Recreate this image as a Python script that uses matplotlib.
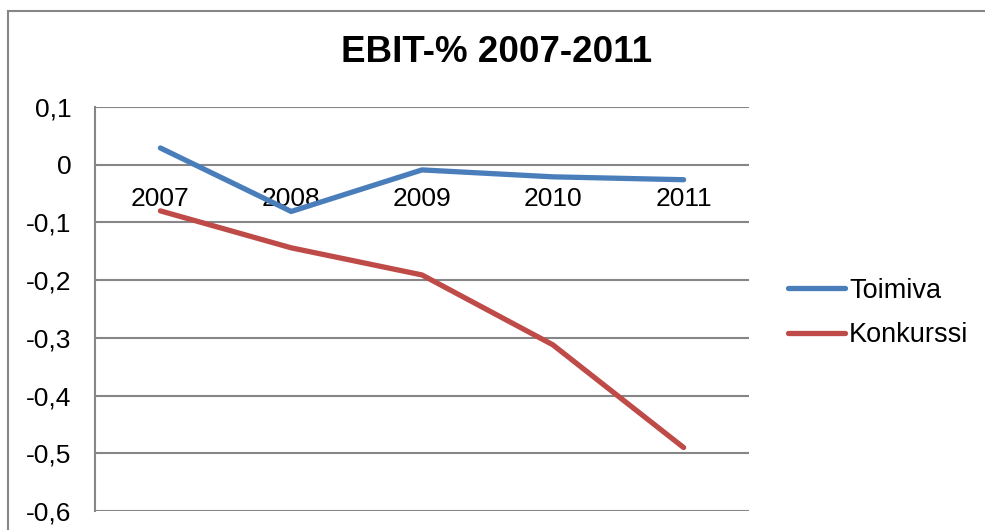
import numpy as np
import matplotlib.pyplot as plt
from matplotlib.patches import Rectangle
from matplotlib.ticker import FuncFormatter

plt.rcParams['font.family'] = ['Liberation Sans', 'DejaVu Sans']

years = ['2007', '2008', '2009', '2010', '2011']
toimiva = [0.029, -0.081, -0.009, -0.021, -0.026]
konkurssi = [-0.080, -0.144, -0.191, -0.312, -0.490]

grid_col = '#868686'

fig = plt.figure(figsize=(9.85, 5.3), dpi=100)
ax = fig.add_axes([95/985, 1 - 511/530, (749 - 95)/985, (511 - 107)/530])

x = np.arange(len(years))
ax.plot(x, toimiva, color='#4A7EBB', lw=3.8, solid_capstyle='round', label='Toimiva', zorder=3)
ax.plot(x, konkurssi, color='#BE4B48', lw=3.8, solid_capstyle='round', label='Konkurssi', zorder=3)

ax.set_xlim(-0.5, len(years) - 0.5)
ax.set_ylim(-0.6, 0.1)
ax.set_yticks(np.arange(-0.6, 0.11, 0.1))
ax.yaxis.set_major_formatter(FuncFormatter(
    lambda v, p: '0' if abs(v) < 1e-9 else ('%.1f' % v).replace('.', ',')))
ax.grid(axis='y', color=grid_col, lw=1.5)
ax.set_axisbelow(True)

# category axis crosses at zero
ax.set_xticks(x)
ax.set_xticklabels(years)
ax.spines['bottom'].set_position(('data', 0))
ax.spines['bottom'].set_visible(False)
for s in ['top', 'right']:
    ax.spines[s].set_visible(False)
ax.spines['left'].set_color(grid_col)
ax.spines['left'].set_linewidth(1.5)
ax.tick_params(axis='x', length=0, pad=16, labelsize=19)
ax.tick_params(axis='y', length=0, pad=17, labelsize=19)

fig.text(497/985, 1 - 53/530, 'EBIT-% 2007-2011', ha='center', va='center',
         fontsize=26.5, fontweight='bold')

ax.legend(loc='center left', bbox_to_anchor=(788/985, 1 - 313/530),
          bbox_transform=fig.transFigure, frameon=False, fontsize=19.5,
          handlelength=2.1, handletextpad=0.15, labelspacing=0.7,
          borderpad=0, borderaxespad=0)

# chart area border
fig.patches.append(Rectangle((8/985, -0.1), 1.2, 1.1 - 11/530, transform=fig.transFigure,
                             fill=False, edgecolor=grid_col, lw=1.5))

fig.savefig('out.png', dpi=100)
